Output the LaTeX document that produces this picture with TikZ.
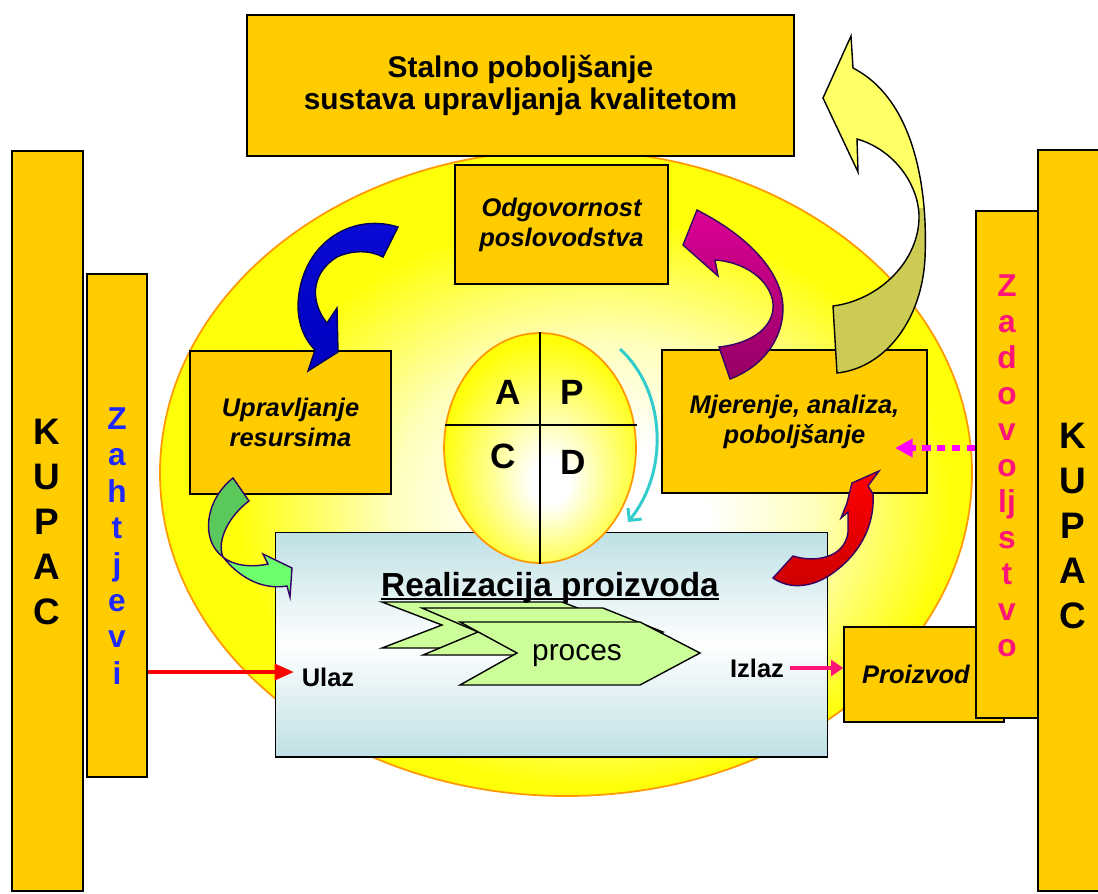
\documentclass[tikz,border=0pt]{standalone}
\usepackage{fontspec}
\setmainfont{Liberation Sans}
\usetikzlibrary{shapes.geometric,arrows.meta}
\definecolor{box_gold}{RGB}{255,204,0}
\definecolor{glow_yellow}{RGB}{255,255,10}
\definecolor{glow_pale}{RGB}{255,255,190}
\definecolor{glow_edge}{RGB}{255,153,0}
\definecolor{real_blue}{RGB}{190,224,228}
\definecolor{proc_green}{RGB}{204,255,153}
\definecolor{req_blue}{RGB}{30,40,255}
\definecolor{sat_pink}{RGB}{255,20,120}
\definecolor{dot_magenta}{RGB}{255,0,255}
\definecolor{cyc_cyan}{RGB}{51,204,204}
\definecolor{arr_blue}{RGB}{0,0,190}
\definecolor{arr_blue_top}{RGB}{10,10,215}
\definecolor{arr_blue_edge}{RGB}{0,0,90}
\definecolor{arr_mag_top}{RGB}{220,0,150}
\definecolor{arr_mag}{RGB}{150,0,100}
\definecolor{arr_khaki_light}{RGB}{255,255,102}
\definecolor{arr_khaki}{RGB}{204,204,85}
\definecolor{arr_green_dark}{RGB}{90,200,90}
\definecolor{arr_green}{RGB}{110,255,110}
\definecolor{arr_red}{RGB}{204,0,0}
\definecolor{arr_edge}{RGB}{50,0,100}
\pgfdeclareradialshading{bigglow}{\pgfpoint{3bp}{-4bp}}{color(0bp)=(white); color(6bp)=(white); color(13bp)=(glow_pale); color(22bp)=(glow_yellow); color(50bp)=(glow_yellow)}
\pgfdeclareradialshading{pdcaglow}{\pgfpoint{3bp}{-8bp}}{color(0bp)=(white); color(5bp)=(white); color(27bp)=(glow_yellow); color(50bp)=(glow_yellow)}
\tikzstyle{goldbox}=[rectangle,fill=box_gold,draw=black,line width=0.8pt,inner sep=0pt]
\tikzstyle{titletext}=[font=\fontsize{17}{18.7}\selectfont\bfseries,align=center]
\tikzstyle{boxtext}=[font=\fontsize{14.5}{17}\selectfont\bfseries\itshape,align=center]
\tikzstyle{kupactext}=[font=\fontsize{21}{25.5}\selectfont\bfseries,align=center]
\tikzstyle{reqtext}=[text=req_blue,font=\fontsize{18}{20.7}\selectfont\bfseries,align=center]
\tikzstyle{sattext}=[text=sat_pink,font=\fontsize{18}{20.5}\selectfont\bfseries,align=center]
\tikzstyle{pdca}=[ellipse,shading=pdcaglow,draw=glow_edge,line width=1pt,inner sep=0pt,
  minimum width=3.84cm,minimum height=4.6cm]
\tikzstyle{pdcaletter}=[font=\fontsize{20}{24}\selectfont\bfseries]
\tikzstyle{realbox}=[rectangle,draw=black,line width=0.6pt,top color=real_blue,
  bottom color=real_blue,middle color=white,minimum width=11.06cm,minimum height=4.5cm]
\tikzstyle{chevron}=[fill=proc_green,draw=black,line width=0.8pt]
\tikzstyle{labeltext}=[font=\fontsize{14.5}{17}\selectfont\bfseries]
\tikzstyle{inarrow}=[draw=red,line width=2.3pt,-{Triangle[length=11pt,width=9pt]}]
\tikzstyle{outarrow}=[draw=sat_pink,line width=2.5pt,-{Triangle[length=7pt,width=9pt]}]
\tikzstyle{dotarrow}=[draw=dot_magenta,line width=3.2pt,dash pattern=on 5pt off 3.5pt,
  -{Triangle[length=10pt,width=10pt]}]
\tikzstyle{cycarrow}=[draw=cyc_cyan,line width=1.7pt,-{Straight Barb[length=5pt,width=10pt]}]
\tikzstyle{bluearrow}=[top color=arr_blue_top,bottom color=arr_blue,draw=arr_blue_edge,line width=0.8pt]
\tikzstyle{magarrow}=[top color=arr_mag_top,bottom color=arr_mag,draw=arr_edge,line width=0.8pt]
\tikzstyle{redarrow}=[top color=red,bottom color=arr_red,draw=arr_edge,line width=0.8pt]
\newcommand{\arcblue}{(398,227) .. controls (350,212) and (300,245) .. (298,305)
  .. controls (298,325) and (305,340) .. (315,350) -- (308,371) -- (338,352) -- (337,308)
  -- (327,323) .. controls (312,305) and (308,275) .. (337,257)
  .. controls (352,250) and (370,250) .. (383,257) -- cycle}
\newcommand{\arcmag}{(730,379) .. controls (775,362) and (790,320) .. (780,290)
  .. controls (770,260) and (740,232) .. (697,210) -- (683,245) -- (718,276) -- (715,260)
  .. controls (745,262) and (770,280) .. (773,303)
  .. controls (775,325) and (755,343) .. (719,347) -- cycle}
\newcommand{\arckhaki}{(837,373) .. controls (885,368) and (922,320) .. (925,258)
  .. controls (928,190) and (915,100) .. (853,68) -- (851,36) -- (823,98) -- (858,172)
  -- (857,139) .. controls (895,150) and (918,185) .. (919,215)
  .. controls (920,260) and (880,300) .. (833,306) -- cycle}
\newcommand{\arcgreen}{(233,478) .. controls (205,500) and (200,540) .. (223,557)
  .. controls (240,578) and (262,590) .. (287,586) -- (290,597) -- (292,568) -- (263,554)
  -- (268,564) .. controls (250,568) and (232,565) .. (223,557)
  .. controls (216,540) and (230,515) .. (249,501) -- cycle}
\newcommand{\arcred}{(773,578) -- (793,556) .. controls (815,563) and (845,558) .. (848,532)
  -- (848,512) -- (841,518) -- (847,503) -- (852,483) -- (879,471) -- (868,486) -- (873,494)
  .. controls (875,525) and (860,555) .. (830,575)
  .. controls (812,587) and (790,590) .. (773,578) -- cycle}

\begin{document}
\begin{tikzpicture}[x=0.02cm,y=-0.02cm]
    \useasboundingbox[fill=white] (0,0) rectangle (1098,893);
    \path[shading=bigglow,draw=glow_edge,line width=1pt] (566,473) ellipse [x radius=406, y radius=323];
    \node [style=goldbox,style=titletext,minimum width=10.94cm,minimum height=2.82cm] (stalno) at (520.5,85.5) {Stalno poboljšanje\\sustava upravljanja kvalitetom};
    \node [style=goldbox,style=boxtext,minimum width=4.26cm,minimum height=2.38cm] (odgov) at (561.5,224.5) {Odgovornost\\poslovodstva};
    \node [style=goldbox,style=boxtext,minimum width=4.02cm,minimum height=2.86cm] (uprav) at (290.5,422.5) {Upravljanje\\resursima};
    \node [style=goldbox,style=boxtext,minimum width=5.3cm,minimum height=2.86cm] (mjer) at (794.5,421.5) {Mjerenje, analiza,\\poboljšanje};
    \node [style=realbox] (real) at (551.5,644.5) {};
    \node [style=pdca] (pdca) at (540,448) {};
    \draw [line width=0.6pt] (pdca.north) to (pdca.south);
    \draw [line width=0.6pt] (445,425) to (637,425);
    \node [style=pdcaletter] (actA) at (508,392) {A};
    \node [style=pdcaletter] (planP) at (572,392) {P};
    \node [style=pdcaletter] (checkC) at (503,456) {C};
    \node [style=pdcaletter] (doD) at (573,462) {D};
    \coordinate (cycstart) at (620,349);
    \coordinate (cycend) at (628,522);
    \draw [style=cycarrow] (cycstart) .. controls (665,390) and (670,470) .. (cycend);
    \draw [style=chevron] (382,602) -- (562,602) -- (622,625) -- (562,648) -- (382,648) -- (442,625) -- cycle;
    \draw [style=chevron] (422,608) -- (603,608) -- (663,632) -- (603,655) -- (423,655) -- (478,632) -- cycle;
    \draw [style=chevron] (460,622) -- (640,622) -- (700,653) -- (640,685) -- (460,685) -- (517,653) -- cycle;
    \node [font=\fontsize{17}{20}\selectfont] (proc) at (577,656) {proces};
    \node [font=\fontsize{19}{22}\selectfont\bfseries,inner sep=0pt] (realtxt) at (550,588) {Realizacija proizvoda};
    \draw [line width=0.9pt] ([yshift=-1.5pt]realtxt.base west) to ([yshift=-1.5pt]realtxt.base east);
    \node [style=labeltext] (ulaz) at (328,677) {Ulaz};
    \node [style=labeltext] (izlaz) at (757,668) {Izlaz};
    \path [style=bluearrow] \arcblue;
    \path [style=magarrow] \arcmag;
    \fill [arr_khaki_light] \arckhaki;
    \begin{scope}
      \clip (800,208) rectangle (960,400);
      \fill [arr_khaki] \arckhaki;
    \end{scope}
    \draw [line width=0.8pt] \arckhaki;
    \fill [arr_green] \arcgreen;
    \begin{scope}
      \clip (190,470) rectangle (258,558);
      \fill [arr_green_dark] \arcgreen;
    \end{scope}
    \draw [draw=arr_edge,line width=0.8pt] \arcgreen;
    \path [style=redarrow] \arcred;
    \node [style=goldbox,style=boxtext,minimum width=3.2cm,minimum height=1.9cm] (proizv) at (924,674.5) {Proizvod\hspace*{0.32cm}};
    \node [style=goldbox,minimum width=1.42cm,minimum height=14.8cm] (kupacL) at (47.5,521) {};
    \node [style=goldbox,minimum width=1.2cm,minimum height=10.06cm] (zahtj) at (117,525.5) {};
    \node [style=goldbox,minimum width=1.24cm,minimum height=10.14cm] (zadov) at (1007,464.5) {};
    \node [style=goldbox,minimum width=1.32cm,minimum height=14.82cm] (kupacR) at (1071,520.5) {};
    \node [style=kupactext] (kupacLtxt) at (47,522) {K\\U\\P\\A\\C};
    \node [style=kupactext] (kupacRtxt) at (1073,526) {K\\U\\P\\A\\C};
    \node [style=reqtext] (zahtjtxt) at (117,546) {Z\\a\\h\\t\\j\\e\\v\\i};
    \node [style=sattext] (zadovtxt) at (1007,466) {Z\\a\\d\\o\\v\\o\\lj\\s\\t\\v\\o};
    \coordinate (ulazend) at (294,672);
    \draw [style=inarrow] (zahtj.east |- ulazend) to (ulazend);
    \draw [style=outarrow] (izlaz.east) to (proizv.west |- izlaz.east);
    \coordinate (zadovend) at (895,448);
    \draw [style=dotarrow] (zadov.west |- zadovend) to (zadovend);
\end{tikzpicture}
\end{document}
